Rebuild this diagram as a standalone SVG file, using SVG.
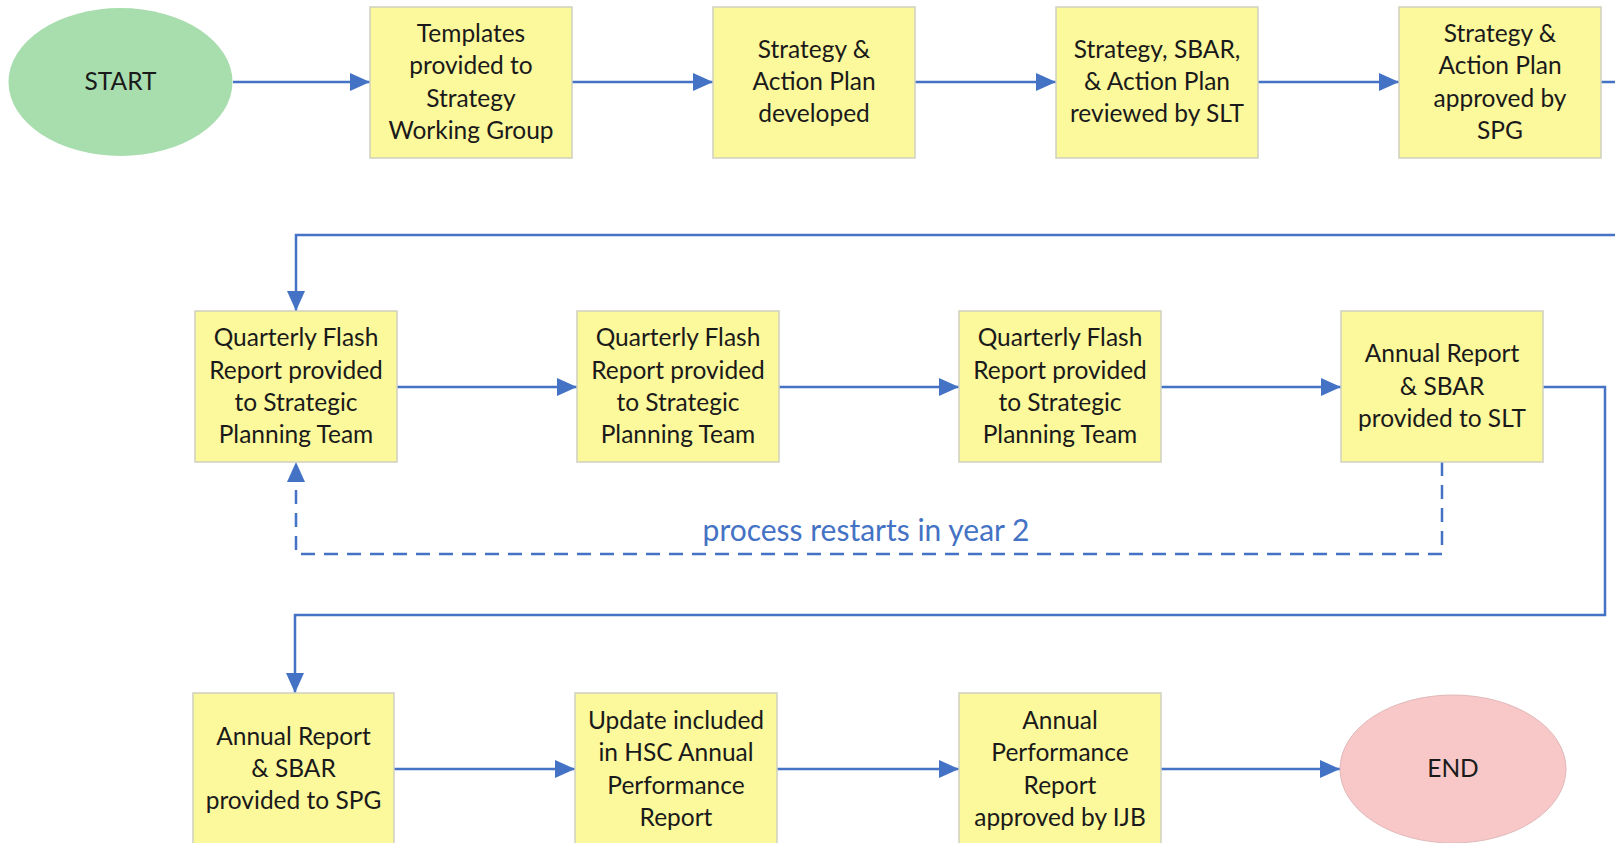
<svg xmlns="http://www.w3.org/2000/svg" width="1615" height="843" viewBox="0 0 1615 843">
<style>
.box{fill:#FCF89C;stroke:#D0D0C0;stroke-width:1.5}
.t{font-family:Lato,"Open Sans",sans-serif;font-size:24.5px;fill:#1a1a1a;text-anchor:middle}
.c{fill:none;stroke:#4472C4;stroke-width:2.5}
.d{fill:none;stroke:#4472C4;stroke-width:2.5;stroke-dasharray:14 9}
.lbl{font-family:Lato,"Open Sans",sans-serif;font-size:30px;fill:#4472C4;text-anchor:middle}
</style>
<defs>
<marker id="ah" markerUnits="userSpaceOnUse" markerWidth="20" markerHeight="20" viewBox="0 0 20 20" refX="20" refY="10" orient="auto">
<path d="M0,1 L20,10 L0,19 Z" fill="#4472C4"/>
</marker>
</defs>
<rect width="1615" height="843" fill="#ffffff"/>
<g id="connectors">
<path class="c" d="M233,82 H370" marker-end="url(#ah)"/>
<path class="c" d="M572,82 H713" marker-end="url(#ah)"/>
<path class="c" d="M915,82 H1056" marker-end="url(#ah)"/>
<path class="c" d="M1258,82 H1399" marker-end="url(#ah)"/>
<path class="c" d="M1601,82 H1630 V235 H296 V311" marker-end="url(#ah)"/>
<path class="c" d="M397,387 H577" marker-end="url(#ah)"/>
<path class="c" d="M779,387 H959" marker-end="url(#ah)"/>
<path class="c" d="M1161,387 H1341" marker-end="url(#ah)"/>
<path class="c" d="M1543,387 H1605 V615 H295 V693" marker-end="url(#ah)"/>
<path class="d" d="M1442,462 V554 H296 V462" marker-end="url(#ah)"/>
<path class="c" d="M394,769 H575" marker-end="url(#ah)"/>
<path class="c" d="M777,769 H959" marker-end="url(#ah)"/>
<path class="c" d="M1161,769 H1340" marker-end="url(#ah)"/>
<text class="lbl" x="866" y="541">process restarts in year 2</text>
</g>
<g id="start">
<ellipse cx="120.5" cy="82" rx="112" ry="74" fill="#A8DDAE"/>
<text class="t" x="120.5" y="90">START</text>
</g>
<g id="n1">
<rect class="box" x="370" y="7" width="202" height="151"/>
<text class="t" x="471" y="42">Templates</text>
<text class="t" x="471" y="74">provided to</text>
<text class="t" x="471" y="107">Strategy</text>
<text class="t" x="471" y="139">Working Group</text>
</g>
<g id="n2">
<rect class="box" x="713" y="7" width="202" height="151"/>
<text class="t" x="814" y="58">Strategy &amp;</text>
<text class="t" x="814" y="90">Action Plan</text>
<text class="t" x="814" y="122">developed</text>
</g>
<g id="n3">
<rect class="box" x="1056" y="7" width="202" height="151"/>
<text class="t" x="1157" y="58">Strategy, SBAR,</text>
<text class="t" x="1157" y="90">&amp; Action Plan</text>
<text class="t" x="1157" y="122">reviewed by SLT</text>
</g>
<g id="n4">
<rect class="box" x="1399" y="7" width="202" height="151"/>
<text class="t" x="1500" y="42">Strategy &amp;</text>
<text class="t" x="1500" y="74">Action Plan</text>
<text class="t" x="1500" y="107">approved by</text>
<text class="t" x="1500" y="139">SPG</text>
</g>
<g id="n5">
<rect class="box" x="195" y="311" width="202" height="151"/>
<text class="t" x="296" y="346">Quarterly Flash</text>
<text class="t" x="296" y="379">Report provided</text>
<text class="t" x="296" y="411">to Strategic</text>
<text class="t" x="296" y="443">Planning Team</text>
</g>
<g id="n6">
<rect class="box" x="577" y="311" width="202" height="151"/>
<text class="t" x="678" y="346">Quarterly Flash</text>
<text class="t" x="678" y="379">Report provided</text>
<text class="t" x="678" y="411">to Strategic</text>
<text class="t" x="678" y="443">Planning Team</text>
</g>
<g id="n7">
<rect class="box" x="959" y="311" width="202" height="151"/>
<text class="t" x="1060" y="346">Quarterly Flash</text>
<text class="t" x="1060" y="379">Report provided</text>
<text class="t" x="1060" y="411">to Strategic</text>
<text class="t" x="1060" y="443">Planning Team</text>
</g>
<g id="n8">
<rect class="box" x="1341" y="311" width="202" height="151"/>
<text class="t" x="1442" y="362">Annual Report</text>
<text class="t" x="1442" y="395">&amp; SBAR</text>
<text class="t" x="1442" y="427">provided to SLT</text>
</g>
<g id="n9">
<rect class="box" x="193" y="693" width="201" height="160"/>
<text class="t" x="293.5" y="745">Annual Report</text>
<text class="t" x="293.5" y="777">&amp; SBAR</text>
<text class="t" x="293.5" y="809">provided to SPG</text>
</g>
<g id="n10">
<rect class="box" x="575" y="693" width="202" height="160"/>
<text class="t" x="676" y="729">Update included</text>
<text class="t" x="676" y="761">in HSC Annual</text>
<text class="t" x="676" y="794">Performance</text>
<text class="t" x="676" y="826">Report</text>
</g>
<g id="n11">
<rect class="box" x="959" y="693" width="202" height="160"/>
<text class="t" x="1060" y="729">Annual</text>
<text class="t" x="1060" y="761">Performance</text>
<text class="t" x="1060" y="794">Report</text>
<text class="t" x="1060" y="826">approved by IJB</text>
</g>
<g id="end">
<ellipse cx="1453" cy="769" rx="113" ry="74" fill="#F8C8C8" stroke="#E0B8B8" stroke-width="1"/>
<text class="t" x="1453" y="777">END</text>
</g>
</svg>
